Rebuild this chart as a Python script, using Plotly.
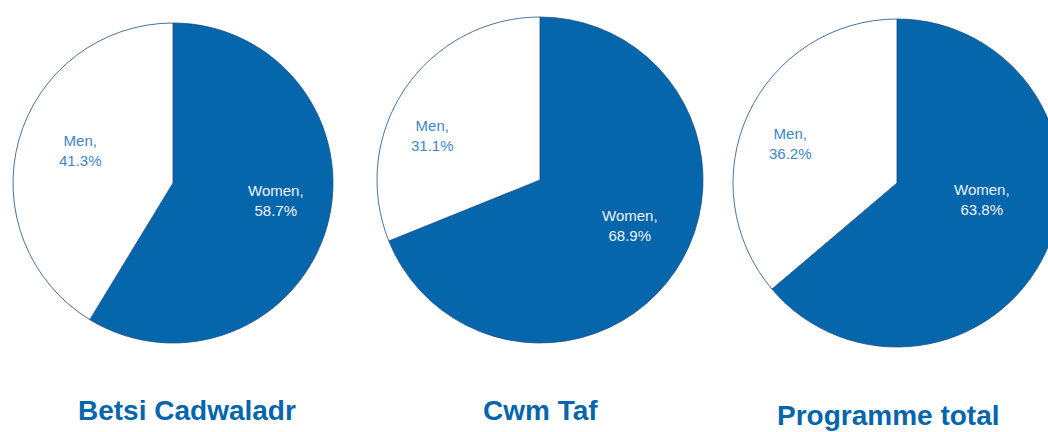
import plotly.graph_objects as go

# ---- data ----
groups = ["Betsi Cadwaladr", "Cwm Taf", "Programme total"]
categories = ["Women", "Men"]
women_pct = [58.7, 68.9, 63.8]
men_pct = [41.3, 31.1, 36.2]

# ---- layout constants (pixels) ----
W, H = 1062, 432
BLUE = "#0566AB"
MEN_TEXT = "#3C87C7"
WOMEN_TEXT = "#EEF3F8"
FONT = "Liberation Sans, Arial, sans-serif"

# pie placement: (center x, center y, radius) in pixels
pie_geom = [(173, 183, 160), (540, 180, 163), (897, 183, 164)]
# data-label placement, offsets from pie centre in pixels: (women dx, dy), (men dx, dy)
label_offsets = [((103, 17), (-93, -33)),
                 ((90, 45), (-108, -45)),
                 ((85, 16), (-107, -40))]
# title placement: (center x, center y) in pixels
title_geom = [(187, 410), (540, 410), (888, 415)]


def dom(cx, cy, r):
    return dict(x=[(cx - r) / W, (cx + r) / W],
                y=[1 - (cy + r) / H, 1 - (cy - r) / H])


fig = go.Figure()
for g, w, m, (cx, cy, r), offs in zip(groups, women_pct, men_pct, pie_geom, label_offsets):
    vals = [w, m]
    fig.add_trace(go.Pie(
        labels=categories,
        values=vals,
        textinfo="none",
        sort=False,
        direction="clockwise",
        rotation=0,
        marker=dict(colors=[BLUE, "#FFFFFF"],
                    line=dict(color="#1B4F86", width=0.8)),
        hoverinfo="label+percent",
        showlegend=False,
        domain=dom(cx, cy, r),
        name=g,
    ))
    for c, v, (dx, dy), col in zip(categories, vals, offs, [WOMEN_TEXT, MEN_TEXT]):
        fig.add_annotation(
            text=f"{c},<br>{v:.1f}%", x=(cx + dx) / W, y=1 - (cy + dy) / H,
            xref="paper", yref="paper", xanchor="center", yanchor="middle",
            showarrow=False, align="center",
            font=dict(family=FONT, size=15, color=col),
        )

for g, (tx, ty) in zip(groups, title_geom):
    fig.add_annotation(
        text=f"<b>{g}</b>", x=tx / W, y=1 - ty / H, xref="paper", yref="paper",
        xanchor="center", yanchor="middle", showarrow=False,
        font=dict(family=FONT, size=28, color=BLUE),
    )

fig.update_layout(
    width=W, height=H,
    margin=dict(l=0, r=0, t=0, b=0),
    paper_bgcolor="white", plot_bgcolor="white",
)

fig.write_html(
    "out.html",
    config={"displayModeBar": False},
    post_script="document.documentElement.style.overflow='hidden';"
                "document.body.style.overflow='hidden';"
                "document.body.style.margin='0';",
)
